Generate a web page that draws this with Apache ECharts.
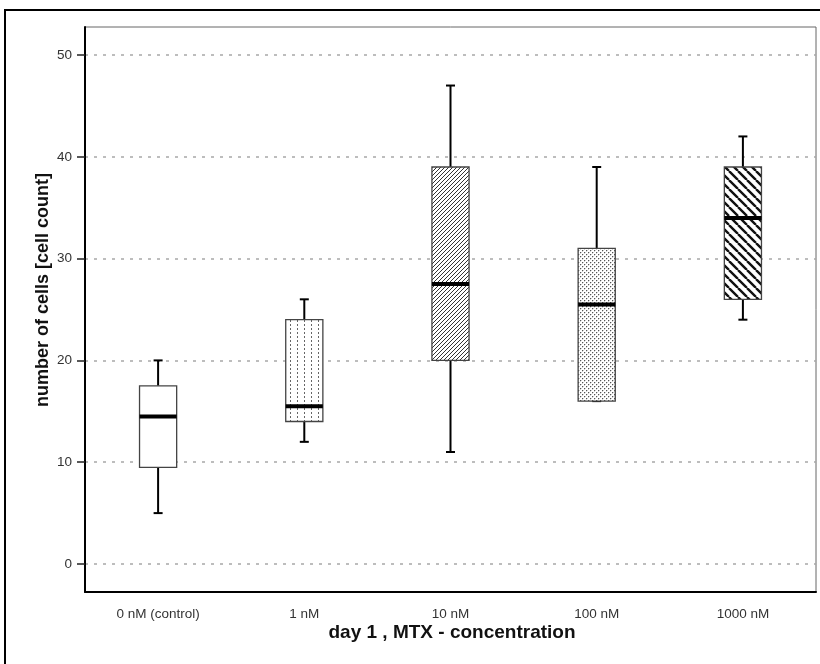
<!DOCTYPE html>
<html>
<head>
<meta charset="utf-8">
<script src="https://cdn.jsdelivr.net/npm/echarts@6/dist/echarts.min.js"></script>
<style>
  html, body { margin: 0; padding: 0; background: #fff; }
  #chart { width: 820px; height: 664px; }
</style>
</head>
<body>
<div id="chart"></div>
<script>
// MTX concentrations on day 1
const categories = ['0 nM (control)', '1 nM', '10 nM', '100 nM', '1000 nM'];
// five-number summaries per group
const whiskerLow  = [5, 12, 11, 16, 24];
const quartile1   = [9.5, 14, 20, 16, 26];
const medians     = [14.5, 15.5, 27.5, 25.5, 34];
const quartile3   = [17.5, 24, 39, 31, 39];
const whiskerHigh = [20, 26, 47, 39, 42];
const yTicks = [0, 10, 20, 30, 40, 50];

const FONT = '"Liberation Sans", Arial, sans-serif';

// fill patterns for the boxes
function tile(w, h, draw) {
  const c = document.createElement('canvas');
  c.width = w; c.height = h;
  const g = c.getContext('2d');
  g.fillStyle = '#fff';
  g.fillRect(0, 0, w, h);
  draw(g);
  return { image: c, repeat: 'repeat' };
}
const patterns = [
  '#ffffff',
  // dotted vertical lines
  tile(7, 4, g => { g.fillStyle = '#666'; g.fillRect(3, 0, 1, 2); }),
  // fine forward hatch
  tile(4, 4, g => {
    g.fillStyle = '#333';
    g.fillRect(0, 3, 1, 1); g.fillRect(1, 2, 1, 1);
    g.fillRect(2, 1, 1, 1); g.fillRect(3, 0, 1, 1);
  }),
  // fine stipple
  tile(4, 4, g => {
    g.fillStyle = '#cfcfcf';
    g.fillRect(1, 0, 1, 1); g.fillRect(0, 1, 1, 1);
    g.fillRect(3, 2, 1, 1); g.fillRect(2, 3, 1, 1);
    g.fillStyle = '#555';
    g.fillRect(0, 0, 1, 1); g.fillRect(2, 2, 1, 1);
  }),
  // bold backward hatch
  tile(9, 9, g => {
    g.strokeStyle = '#111'; g.lineWidth = 2.4;
    g.beginPath();
    g.moveTo(-9, 0); g.lineTo(0, 9);
    g.moveTo(0, 0); g.lineTo(9, 9);
    g.moveTo(9, 0); g.lineTo(18, 9);
    g.stroke();
  })
];

const boxData = categories.map((c, i) =>
  [i, whiskerLow[i], quartile1[i], medians[i], quartile3[i], whiskerHigh[i]]);

function renderBox(params, api) {
  const i = api.value(0);
  const pLow = api.coord([i, api.value(1)]);
  const pQ1 = api.coord([i, api.value(2)]);
  const pMed = api.coord([i, api.value(3)]);
  const pQ3 = api.coord([i, api.value(4)]);
  const pHigh = api.coord([i, api.value(5)]);
  const bandW = api.size([1, 0])[0];
  const half = bandW * 0.127;
  const cap = 4.5;
  const cx = pQ1[0];
  const blk = { stroke: '#000', lineWidth: 2 };
  return {
    type: 'group',
    children: [
      { type: 'line', shape: { x1: cx, y1: pHigh[1], x2: cx, y2: pQ3[1] }, style: blk },
      { type: 'line', shape: { x1: cx, y1: pQ1[1], x2: cx, y2: pLow[1] }, style: blk },
      { type: 'line', shape: { x1: cx - cap, y1: pHigh[1], x2: cx + cap, y2: pHigh[1] }, style: blk },
      { type: 'line', shape: { x1: cx - cap, y1: pLow[1], x2: cx + cap, y2: pLow[1] }, style: blk },
      {
        type: 'rect',
        shape: { x: cx - half, y: pQ3[1], width: half * 2, height: pQ1[1] - pQ3[1] },
        style: { fill: patterns[i], stroke: '#444', lineWidth: 1.3 }
      },
      { type: 'line', shape: { x1: cx - half, y1: pMed[1], x2: cx + half, y2: pMed[1] },
        style: { stroke: '#000', lineWidth: 4 } }
    ]
  };
}

const chart = echarts.init(document.getElementById('chart'), null, { renderer: 'canvas' });
chart.setOption({
  animation: false,
  backgroundColor: '#fff',
  grid: {
    left: 85, right: 4, top: 27, bottom: 72,
    show: true, borderColor: '#666', borderWidth: 1, backgroundColor: 'transparent'
  },
  xAxis: {
    type: 'category',
    data: categories,
    axisLine: { onZero: false, lineStyle: { color: '#000', width: 2 } },
    axisTick: { alignWithLabel: true, length: 8, lineStyle: { color: '#555', width: 1.5 } },
    axisLabel: { color: '#333', fontFamily: FONT, fontSize: 13.5, margin: 15 },
    splitLine: { show: false }
  },
  yAxis: {
    type: 'value',
    min: -2.75,
    max: 52.75,
    axisLine: { show: true, lineStyle: { color: '#000', width: 2 } },
    axisTick: { show: true, length: 8, customValues: yTicks, lineStyle: { color: '#222', width: 1.5 } },
    axisLabel: { color: '#333', fontFamily: FONT, fontSize: 13.5, margin: 13, customValues: yTicks },
    splitLine: { show: true, lineStyle: { color: '#a8a8a8', width: 1.6, type: [3, 6] } }
  },
  graphic: [
    {
      type: 'rect', z: -10, silent: true,
      shape: { x: 5, y: 10, width: 900, height: 700 },
      style: { fill: 'none', stroke: '#000', lineWidth: 2 }
    },
    {
      type: 'text', x: 43, y: 290, rotation: Math.PI / 2,
      style: {
        text: 'number of cells [cell count]', font: 'bold 18px ' + FONT,
        fill: '#111', textAlign: 'center', textVerticalAlign: 'middle'
      }
    },
    {
      type: 'text', x: 452, y: 633,
      style: {
        text: 'day 1 , MTX - concentration', font: 'bold 19px ' + FONT,
        fill: '#111', textAlign: 'center', textVerticalAlign: 'middle'
      }
    }
  ],
  series: [{
    type: 'custom',
    renderItem: renderBox,
    encode: { x: 0, y: [1, 2, 3, 4, 5] },
    data: boxData,
    z: 5
  }]
});
</script>
</body>
</html>
